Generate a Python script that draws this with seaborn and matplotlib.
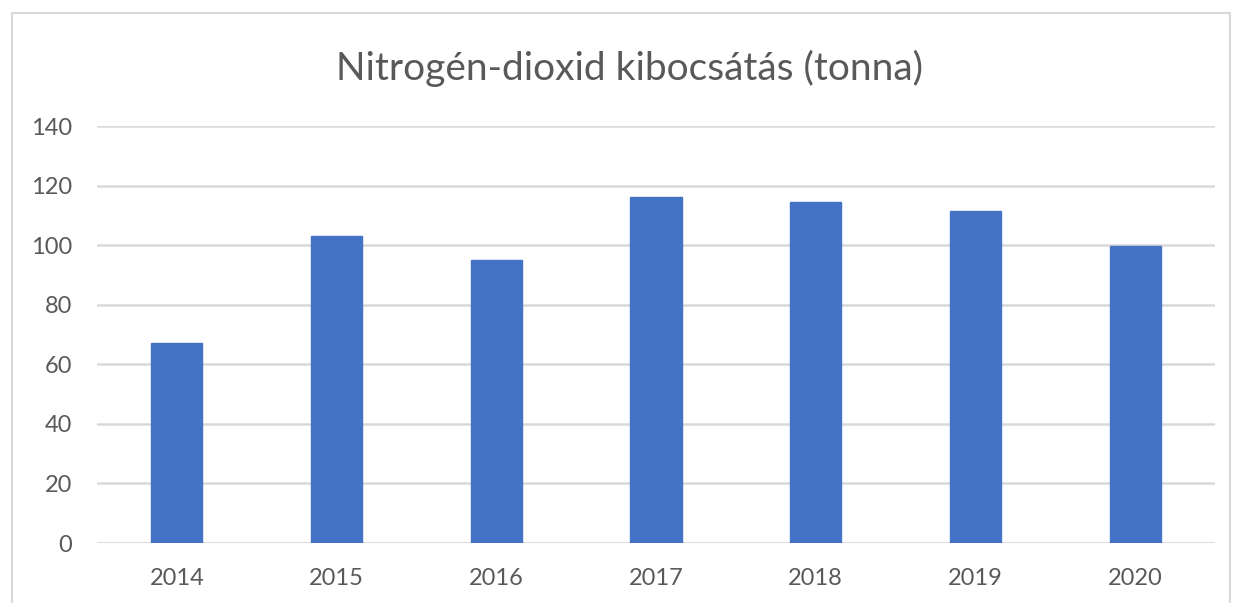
#!/usr/bin/env python3
import matplotlib
matplotlib.use("Agg")
import matplotlib.pyplot as plt
import seaborn as sns
import pandas as pd
from matplotlib.patches import Rectangle

# data
years = ["2014", "2015", "2016", "2017", "2018", "2019", "2020"]
emission = [67, 103, 95, 116.3, 114.4, 111.3, 99.6]
yticks = [0, 20, 40, 60, 80, 100, 120, 140]
title = "Nitrogén-dioxid kibocsátás (tonna)"

df = pd.DataFrame({"year": years, "value": emission})

sns.set_style("white")
plt.rcParams["font.family"] = ["Lato", "DejaVu Sans"]

fig = plt.figure(figsize=(12.37, 6.03), dpi=100)
ax = fig.add_axes([97 / 1237, 1 - 543 / 603, (1215 - 97) / 1237, (543 - 126) / 603])

sns.barplot(data=df, x="year", y="value", color="#4472C4", saturation=1,
            width=0.32, ax=ax, zorder=3, edgecolor="#4472C4")

ax.set_ylim(0, 140)
ax.set_yticks(yticks)
ax.set_xlim(-0.5, len(years) - 0.5)
ax.yaxis.grid(True, color="#d9d9d9", linewidth=1.8, zorder=0)
ax.set_axisbelow(True)
for s in ax.spines.values():
    s.set_visible(False)
ax.axhline(0, color="#d9d9d9", linewidth=1.8, zorder=1)
ax.set_xlabel("")
ax.set_ylabel("")
ax.tick_params(axis="y", length=0, pad=18, labelsize=17, labelcolor="#595959")
ax.tick_params(axis="x", length=0, pad=18, labelsize=17, labelcolor="#595959")

fig.text(630 / 1237, 1 - 68 / 603, title, ha="center", va="center", fontsize=28, color="#595959")

# chart border like the spreadsheet frame
fig.patches.append(Rectangle((12 / 1237, -0.05), (1230 - 12) / 1237, 1 - 13 / 603 + 0.05,
                             transform=fig.transFigure, fill=False,
                             edgecolor="#d9d9d9", linewidth=1.5))

fig.savefig("out.png", dpi=100)
